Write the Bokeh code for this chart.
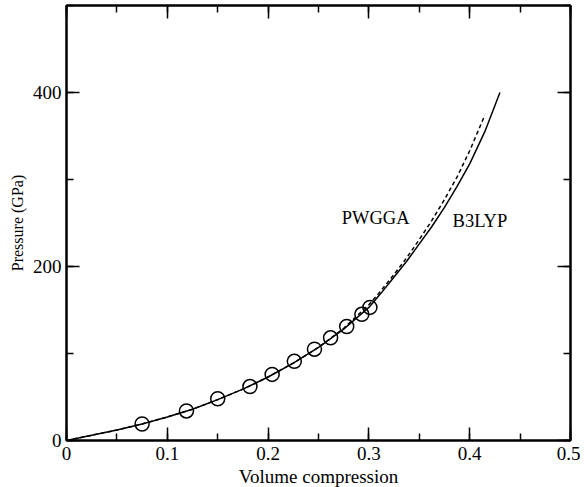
from bokeh.plotting import figure
from bokeh.models import LinearAxis, SingleIntervalTicker, Range1d, Label, CustomJSTickFormatter
from bokeh.embed import file_html
from bokeh.resources import INLINE

# Experimental points (circles)
exp_x = [0.075, 0.119, 0.150, 0.182, 0.204, 0.226, 0.246, 0.262, 0.278, 0.293, 0.301]
exp_p = [19, 34, 48, 62, 76, 91, 105, 118, 131, 145, 153]

# B3LYP (solid)
b3_x = [0, 0.025, 0.05, 0.075, 0.1, 0.125, 0.15, 0.175, 0.2, 0.225, 0.25, 0.275,
        0.3, 0.3125, 0.325, 0.3375, 0.35, 0.3625, 0.375, 0.3875, 0.4, 0.415, 0.43]
b3_p = [0, 6, 12, 19, 27, 36, 47, 59, 73, 89, 107, 128,
        153, 170, 188, 206, 226, 246, 268, 292, 318, 355, 400]

# PWGGA (dashed)
pw_x = [0, 0.025, 0.05, 0.075, 0.1, 0.125, 0.15, 0.175, 0.2, 0.225, 0.25, 0.275,
        0.3, 0.3125, 0.325, 0.3375, 0.35, 0.3625, 0.375, 0.3875, 0.4, 0.415]
pw_p = [0, 6, 12, 19, 27, 36, 47, 59, 73, 89, 107, 129,
        156, 173, 191, 210, 231, 253, 277, 303, 333, 374]

FONT = "Liberation Serif"

p = figure(frame_width=504, frame_height=435, output_backend="svg",
           toolbar_location=None, x_range=Range1d(0, 0.5), y_range=Range1d(0, 500),
           x_axis_label="Volume compression", y_axis_label="Pressure (GPa)",
           min_border_left=66, min_border_right=10, min_border_top=5, min_border_bottom=0)
p.xgrid.visible = False
p.ygrid.visible = False
p.outline_line_color = "black"
p.outline_line_width = 2
p.background_fill_color = "white"
p.border_fill_color = "white"

p.xaxis.ticker = SingleIntervalTicker(interval=0.1, num_minor_ticks=2)
p.yaxis.ticker = SingleIntervalTicker(interval=200, num_minor_ticks=2)

for ax in [p.xaxis[0], p.yaxis[0]]:
    ax.major_tick_in = 13
    ax.major_tick_out = 0
    ax.minor_tick_in = 7
    ax.minor_tick_out = 0
    ax.axis_line_width = 2
    ax.major_tick_line_width = 1.5
    ax.minor_tick_line_width = 1.5
    ax.major_label_text_font = FONT
    ax.major_label_text_font_size = "19px"
    ax.major_label_text_color = "black"
    ax.axis_label_text_font = FONT
    ax.axis_label_text_color = "black"
    ax.axis_label_text_font_style = "normal"

p.xaxis.major_label_standoff = 6
p.xaxis.axis_label_standoff = 3
p.yaxis.major_label_standoff = 5
p.yaxis.axis_label_standoff = 4
p.xaxis.axis_label_text_font_size = "19px"
p.yaxis.axis_label_text_font_size = "16px"
p.xaxis.major_label_overrides = {0: "0", 0.1: "0.1", 0.2: "0.2", 0.3: "0.3", 0.4: "0.4", 0.5: "0.5"}

blank = CustomJSTickFormatter(code="return '';")
top = LinearAxis(ticker=SingleIntervalTicker(interval=0.1, num_minor_ticks=2), formatter=blank)
right = LinearAxis(ticker=SingleIntervalTicker(interval=200, num_minor_ticks=2), formatter=blank)
for ax in [top, right]:
    ax.major_tick_in = 13
    ax.major_tick_out = 0
    ax.minor_tick_in = 7
    ax.minor_tick_out = 0
    ax.axis_line_width = 2
    ax.major_tick_line_width = 1.5
    ax.minor_tick_line_width = 1.5
    ax.major_label_standoff = 0
p.add_layout(top, "above")
p.add_layout(right, "right")

p.line(b3_x, b3_p, line_color="black", line_width=1.5)
p.line(pw_x, pw_p, line_color="black", line_width=1.5, line_dash="4 3")
p.scatter(exp_x, exp_p, marker="circle", size=14, fill_color=None,
          line_color="black", line_width=1.5)

p.add_layout(Label(x=0.273, y=256, text="PWGGA", text_font=FONT, text_color="black",
                   text_font_size="18.5px", text_baseline="middle"))
p.add_layout(Label(x=0.383, y=252, text="B3LYP", text_font=FONT, text_color="black",
                   text_font_size="18.5px", text_baseline="middle"))

open("out.html", "w").write(file_html(p, INLINE))
